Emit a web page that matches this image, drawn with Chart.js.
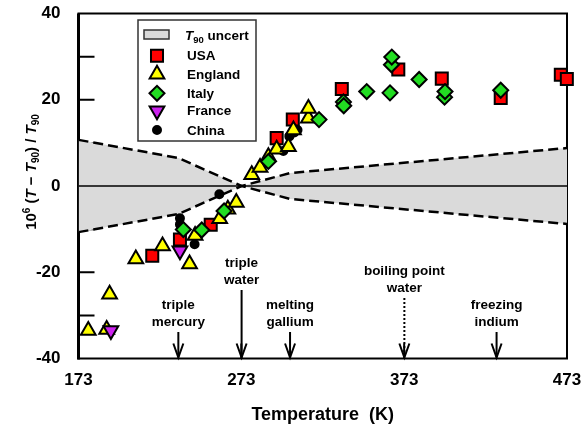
<!DOCTYPE html>
<html>
<head>
<meta charset="utf-8">
<title>T - T90</title>
<script src="https://cdn.jsdelivr.net/npm/chart.js@4.4.1/dist/chart.umd.min.js"></script>
<style>
  body { margin: 0; background: #fff; }
  #chartBox { width: 588px; height: 426px; }
</style>
</head>
<body>
<div id="chartBox"><canvas id="tChart" width="588" height="426"></canvas></div>
<script>
// temperature in K, deviation as 10^6 (T - T90) / T90

const usaT = [218.3, 235.3, 254.2, 294.7, 304.6, 334.7, 369.4, 396.1, 432.3, 469.2, 472.9];
const usaV = [-16.2, -12.4, -9.0, 11.1, 15.4, 22.5, 27.0, 24.9, 20.4, 25.8, 24.8];

const englandT = [179.0, 190.3, 192.1, 208.2, 224.6, 241.2, 244.6, 259.7, 264.7, 269.9, 279.4, 284.5, 289.6, 294.7, 301.9, 305.0, 314.2, 314.2];
const englandV = [-33.5, -33.3, -25.1, -16.9, -13.9, -18.1, -11.5, -7.6, -5.4, -3.8, 2.6, 4.3, 6.8, 8.5, 9.1, 13.0, 15.7, 18.0];

const italyT = [237.4, 248.7, 262.4, 289.6, 320.7, 335.7, 335.9, 350.0, 364.3, 365.2, 365.4, 382.2, 397.8, 398.1, 432.3];
const italyV = [-10.1, -10.2, -5.8, 5.7, 15.4, 19.5, 18.6, 21.9, 21.6, 28.1, 29.9, 24.7, 20.6, 21.9, 22.2];

const franceT = [192.9, 235.3];
const franceV = [-33.5, -15.0];

const chinaT = [235.3, 235.3, 244.3, 259.5, 298.8, 302.5, 305.5, 307.5, 335.5];
const chinaV = [-7.5, -8.9, -13.5, -1.9, 8.1, 11.5, 12.4, 13.0, 18.3];

// T90 uncertainty band (upper edge, lower is the mirror)
const bandT = [173, 234.3, 273.16, 302.9, 473];
const bandU = [10.7, 6.5, 0, 3.0, 8.8];

const xTicks = [173, 273, 373, 473];
const yTicks = [-40, -20, 0, 20, 40];
const yMinorTicks = [-30, -20, -10, 10, 20, 30];

// fixed points of ITS-90 marked with arrows
const fpTemps = [234.3156, 273.16, 302.9146, 373.124, 429.7485];
const fpLabels = [['triple', 'mercury'], ['triple', 'water'], ['melting', 'gallium'], ['boiling point', 'water'], ['freezing', 'indium']];

// layout bits for the arrows (pixel top of each arrow, dotted or not)
const fpArrowTop = [332, 290, 332, 298, 332];
const fpDotted = [false, false, false, true, false];

const FONT = '"Liberation Sans", Arial, sans-serif';

function toPoints(xs, ys) {
    return xs.map(function (x, i) { return { x: x, y: ys[i] }; });
}

const series = [
    { label: 'USA', xs: usaT, ys: usaV, style: 'rect', radius: 8.5, rotation: 0, color: '#ff0000', order: 4 },
    { label: 'England', xs: englandT, ys: englandV, style: 'triangle', radius: 8.5, rotation: 0, color: '#ffff00', order: 3 },
    { label: 'Italy', xs: italyT, ys: italyV, style: 'rectRot', radius: 7.5, rotation: 0, color: '#22dd22', order: 2 },
    { label: 'France', xs: franceT, ys: franceV, style: 'triangle', radius: 8.5, rotation: 180, color: '#cc22ee', order: 1 },
    { label: 'China', xs: chinaT, ys: chinaV, style: 'circle', radius: 4, rotation: 0, color: '#000000', order: 5 }
];

const datasets = [
    {
        type: 'line', label: 'band upper', data: toPoints(bandT, bandU),
        borderColor: '#000', borderWidth: 2.5, borderDash: [10, 5], pointRadius: 0,
        fill: 'origin', backgroundColor: '#dadada', order: 10
    },
    {
        type: 'line', label: 'band lower', data: toPoints(bandT, bandU.map(function (v) { return -v; })),
        borderColor: '#000', borderWidth: 2.5, borderDash: [10, 5], pointRadius: 0,
        fill: 'origin', backgroundColor: '#dadada', order: 10
    },
    {
        type: 'line', label: 'zero', data: [{ x: 173, y: 0 }, { x: 473, y: 0 }],
        borderColor: '#000', borderWidth: 1.5, pointRadius: 0, fill: false, order: 9
    }
];

series.forEach(function (s) {
    datasets.push({
        type: 'scatter',
        label: s.label,
        data: toPoints(s.xs, s.ys),
        pointStyle: s.style,
        pointRadius: s.radius,
        pointRotation: s.rotation,
        pointBackgroundColor: s.color,
        pointBorderColor: '#000',
        pointBorderWidth: 2,
        clip: false,
        order: s.order
    });
});

function drawMarker(ctx, s, x, y) {
    ctx.save();
    ctx.fillStyle = s.color;
    ctx.strokeStyle = '#000';
    ctx.lineWidth = 2;
    Chart.helpers.drawPoint(ctx, { pointStyle: s.style, rotation: s.rotation, radius: s.radius, borderWidth: 2 }, x, y);
    ctx.restore();
}

function drawRich(ctx, parts, x, y, align) {
    let total = 0;
    parts.forEach(function (p) {
        ctx.font = p.font;
        p.w = ctx.measureText(p.text).width;
        total += p.w;
    });
    let cx = align === 'center' ? x - total / 2 : x;
    parts.forEach(function (p) {
        ctx.font = p.font;
        ctx.fillText(p.text, cx, y + (p.dy || 0));
        cx += p.w;
    });
}

function drawArrow(ctx, x, yTop, yBot, dotted) {
    ctx.save();
    ctx.strokeStyle = '#000';
    ctx.lineWidth = 2;
    if (dotted) ctx.setLineDash([2, 2]);
    ctx.beginPath();
    ctx.moveTo(x, yTop);
    ctx.lineTo(x, yBot - 1);
    ctx.stroke();
    ctx.setLineDash([]);
    ctx.beginPath();
    ctx.moveTo(x - 5, yBot - 15);
    ctx.lineTo(x, yBot - 1);
    ctx.lineTo(x + 5, yBot - 15);
    ctx.stroke();
    ctx.restore();
}

const framePlugin = {
    id: 'frame',
    beforeDatasetsDraw: function (chart) {
        const ctx = chart.ctx;
        const a = chart.chartArea;
        const xs = chart.scales.x;
        const ys = chart.scales.y;
        ctx.save();
        ctx.strokeStyle = '#000';
        ctx.lineWidth = 2;
        ctx.strokeRect(a.left, a.top, a.right - a.left, a.bottom - a.top);
        // left axis is drawn a bit heavier
        ctx.lineWidth = 3;
        ctx.beginPath();
        ctx.moveTo(a.left, a.top);
        ctx.lineTo(a.left, a.bottom + 1);
        ctx.stroke();
        ctx.lineWidth = 2;
        ctx.beginPath();
        yMinorTicks.forEach(function (v) {
            const py = ys.getPixelForValue(v);
            ctx.moveTo(a.left, py);
            ctx.lineTo(a.left + 16, py);
        });
        xTicks.slice(1, -1).forEach(function (t) {
            const px = xs.getPixelForValue(t);
            ctx.moveTo(px, a.bottom);
            ctx.lineTo(px, a.bottom - 15);
        });
        ctx.stroke();
        ctx.restore();
    },
    afterDatasetsDraw: function (chart) {
        const ctx = chart.ctx;
        const a = chart.chartArea;
        const xs = chart.scales.x;
        ctx.save();
        ctx.fillStyle = '#000';

        // fixed point arrows and labels
        ctx.textAlign = 'center';
        ctx.textBaseline = 'middle';
        ctx.font = 'bold 13.5px ' + FONT;
        fpTemps.forEach(function (t, i) {
            const px = xs.getPixelForValue(t);
            drawArrow(ctx, px, fpArrowTop[i], a.bottom, fpDotted[i]);
            ctx.fillText(fpLabels[i][0], px, fpArrowTop[i] - 27);
            ctx.fillText(fpLabels[i][1], px, fpArrowTop[i] - 10);
        });

        // legend
        ctx.fillStyle = '#fff';
        ctx.fillRect(138, 20, 118, 121);
        ctx.strokeStyle = '#333';
        ctx.lineWidth = 1.5;
        ctx.strokeRect(138, 20, 118, 121);
        ctx.fillStyle = '#dadada';
        ctx.fillRect(144, 30, 25, 9);
        ctx.strokeRect(144, 30, 25, 9);
        ctx.fillStyle = '#000';
        ctx.textAlign = 'left';
        ctx.textBaseline = 'alphabetic';
        drawRich(ctx, [
            { text: 'T', font: 'italic bold 13.5px ' + FONT },
            { text: '90', font: 'bold 9.5px ' + FONT, dy: 3 },
            { text: ' uncert', font: 'bold 13.5px ' + FONT }
        ], 185, 40, 'left');
        const rowY = [55.7, 74.3, 93.3, 110.7, 130];
        series.forEach(function (s, i) {
            drawMarker(ctx, s, 157, rowY[i]);
            ctx.fillStyle = '#000';
            ctx.textBaseline = 'middle';
            ctx.font = 'bold 13.5px ' + FONT;
            ctx.fillText(s.label, 187, rowY[i] + 1);
        });

        // y axis title
        ctx.translate(30, 172);
        ctx.rotate(-Math.PI / 2);
        ctx.textBaseline = 'alphabetic';
        const big = 'bold 15px ' + FONT;
        const small = 'bold 10px ' + FONT;
        const ital = 'italic bold 15px ' + FONT;
        drawRich(ctx, [
            { text: '10', font: big },
            { text: '6', font: small, dy: -6 },
            { text: ' (', font: big },
            { text: 'T', font: ital },
            { text: ' \u2212 ', font: big },
            { text: 'T', font: ital },
            { text: '90', font: small, dy: 3 },
            { text: ') / ', font: big },
            { text: 'T', font: ital },
            { text: '90', font: small, dy: 3 }
        ], 0, 5.5, 'center');
        ctx.restore();
    }
};

new Chart(document.getElementById('tChart'), {
    type: 'scatter',
    data: { datasets: datasets },
    options: {
        responsive: false,
        animation: false,
        layout: { padding: { left: 0, right: 21, top: 13.5, bottom: 0 } },
        plugins: { legend: { display: false }, tooltip: { enabled: false } },
        scales: {
            x: {
                type: 'linear', min: 173, max: 473,
                afterBuildTicks: function (scale) { scale.ticks = xTicks.map(function (v) { return { value: v }; }); },
                afterFit: function (scale) {
                    scale.height = 67.5;
                    scale.paddingLeft = 0;
                    scale.paddingRight = 0;
                },
                grid: { display: false },
                border: { display: false },
                ticks: { padding: 4, color: '#000', font: { family: FONT, size: 17, weight: 'bold' }, maxRotation: 0 },
                title: { display: true, text: 'Temperature  (K)', color: '#000', font: { family: FONT, size: 18, weight: 'bold' }, padding: 0 }
            },
            y: {
                type: 'linear', min: -40, max: 40,
                afterBuildTicks: function (scale) { scale.ticks = yTicks.map(function (v) { return { value: v }; }); },
                afterFit: function (scale) {
                    scale.width = 78.5;
                    scale.paddingTop = 0;
                    scale.paddingBottom = 0;
                },
                grid: { display: false },
                border: { display: false },
                ticks: { padding: 10, color: '#000', font: { family: FONT, size: 17, weight: 'bold' } }
            }
        }
    },
    plugins: [framePlugin]
});
</script>
</body>
</html>
